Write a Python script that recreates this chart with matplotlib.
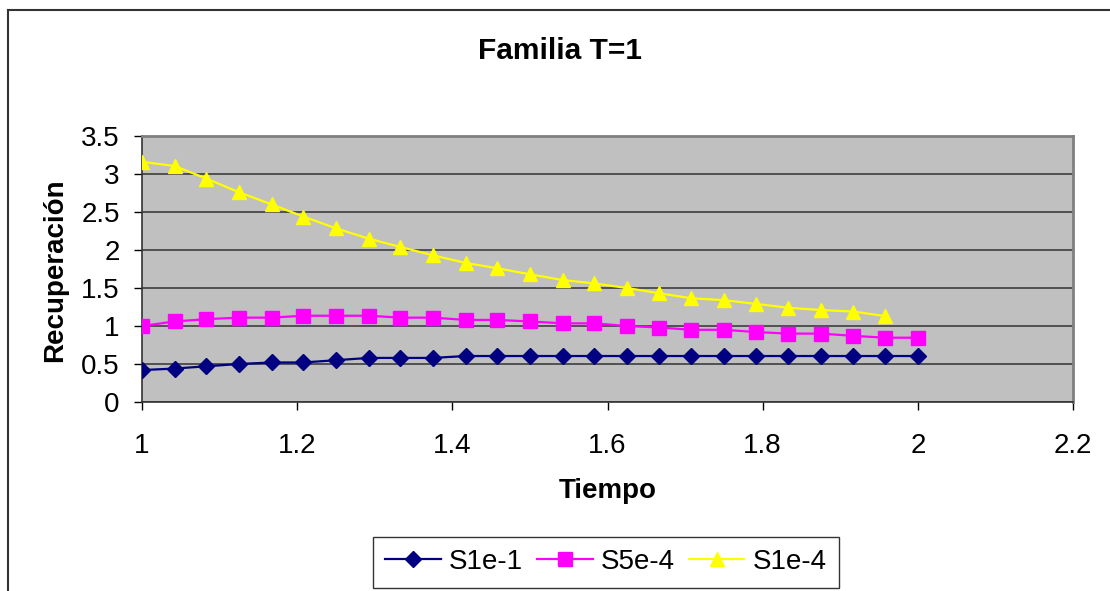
import matplotlib
matplotlib.use("Agg")
import matplotlib.pyplot as plt
from matplotlib.lines import Line2D

plt.rcParams['font.family'] = ['Liberation Sans', 'DejaVu Sans']

# Time samples
tiempo = [1.0, 1.042, 1.083, 1.125, 1.167, 1.208, 1.25, 1.292, 1.333, 1.375,
          1.417, 1.458, 1.5, 1.542, 1.583, 1.625, 1.667, 1.708, 1.75, 1.792,
          1.833, 1.875, 1.917, 1.958, 2.0]

s1e_1 = [0.42, 0.44, 0.47, 0.50, 0.52, 0.52, 0.55, 0.58, 0.58, 0.58,
         0.605, 0.605, 0.605, 0.605, 0.605, 0.605, 0.605, 0.605, 0.605, 0.605,
         0.605, 0.605, 0.605, 0.605, 0.605]
s5e_4 = [1.00, 1.06, 1.09, 1.11, 1.11, 1.135, 1.135, 1.135, 1.11, 1.11,
         1.08, 1.08, 1.06, 1.035, 1.035, 1.00, 0.98, 0.95, 0.95, 0.92,
         0.90, 0.90, 0.87, 0.846, 0.846]
s1e_4 = [3.16, 3.105, 2.94, 2.76, 2.60, 2.44, 2.285, 2.15, 2.04, 1.93,
         1.83, 1.76, 1.68, 1.605, 1.56, 1.50, 1.43, 1.365, 1.34, 1.29,
         1.24, 1.21, 1.19, 1.13]

series_names = ["S1e-1", "S5e-4", "S1e-4"]
x_ticks = [1, 1.2, 1.4, 1.6, 1.8, 2, 2.2]
y_ticks = [0, 0.5, 1, 1.5, 2, 2.5, 3, 3.5]

W, H = 1110, 591
fig = plt.figure(figsize=(W / 100, H / 100), dpi=100)
fig.patch.set_facecolor('white')

# plot area in pixel terms: x 142..1073, y 136..402
ax = fig.add_axes([142 / W, 1 - 402 / H, 931 / W, 266 / H])
ax.set_facecolor('#C0C0C0')

ax.plot(tiempo, s1e_1, color='#000080', lw=1.6, marker='D', ms=8,
        mec='#000080', mfc='#000080', label=series_names[0], zorder=3)
ax.plot(tiempo, s5e_4, color='#FF00FF', lw=1.6, marker='s', ms=10,
        mec='#FF00FF', mfc='#FF00FF', label=series_names[1], zorder=3)
ax.plot(tiempo[:len(s1e_4)], s1e_4, color='#FFFF00', lw=1.6, marker='^', ms=10.5,
        mec='#FFFF00', mfc='#FFFF00', label=series_names[2], zorder=3)

ax.set_xlim(1, 2.2)
ax.set_ylim(0, 3.5)
ax.set_xticks(x_ticks)
ax.set_xticklabels([f"{v:g}" for v in x_ticks])
ax.set_yticks(y_ticks)
ax.set_yticklabels([f"{v:g}" for v in y_ticks])

ax.yaxis.grid(True, color='#333333', lw=1.1)
ax.set_axisbelow(True)

ax.tick_params(axis='x', direction='out', length=6, width=1, color='black',
               labelsize=20, pad=16)
ax.tick_params(axis='y', direction='out', length=6, width=1, color='black',
               labelsize=20, pad=10)

for side in ('left', 'bottom'):
    ax.spines[side].set_color('#333333')
    ax.spines[side].set_linewidth(1.2)
for side in ('top', 'right'):
    ax.spines[side].set_color('#808080')
    ax.spines[side].set_linewidth(2)

ax.set_xlabel("Tiempo", fontsize=20, fontweight='bold', va='center')
ax.xaxis.set_label_coords(0.5, (402 - 491) / 266)
ax.set_ylabel("Recuperación", fontsize=20, fontweight='bold', va='center')
ax.yaxis.set_label_coords((55 - 142) / 931, (402 - 270) / 266)

fig.text(560 / W, 1 - 51 / H, "Familia T=1", ha='center', va='center',
         fontsize=21.5, fontweight='bold')

leg = fig.legend(loc='center', bbox_to_anchor=(606 / W, 1 - 562 / H), ncol=3,
                 fontsize=20, frameon=True, fancybox=False, edgecolor='black',
                 handlelength=2.0, columnspacing=0.5, handletextpad=0.3,
                 borderpad=0.45, borderaxespad=0)
leg.get_frame().set_linewidth(1.0)

# Outer chart border (top and left edges)
fig.add_artist(Line2D([8 / W, 1.0], [1 - 10 / H, 1 - 10 / H],
                      transform=fig.transFigure, color='#333333', lw=1.5))
fig.add_artist(Line2D([8 / W, 8 / W], [1 - 10 / H, 0.0],
                      transform=fig.transFigure, color='#333333', lw=1.5))

fig.savefig("out.png", dpi=100)
